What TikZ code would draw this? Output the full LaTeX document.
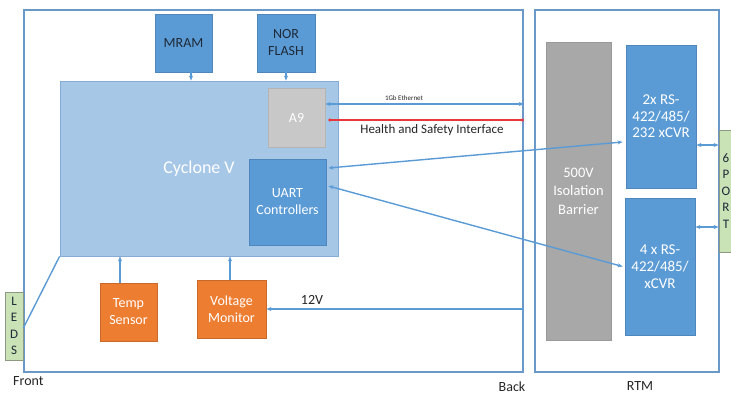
\documentclass[tikz,border=0pt]{standalone}
\usepackage{fontspec}
\setmainfont{Carlito}
\usetikzlibrary{arrows.meta}
\definecolor{frameb}{HTML}{6A98C8}
\definecolor{bluefill}{HTML}{5B9BD5}
\definecolor{blueline}{HTML}{4F86BE}
\definecolor{cycfill}{HTML}{A7C7E7}
\definecolor{cycline}{HTML}{86ACD6}
\definecolor{grayfill}{HTML}{C8C8C8}
\definecolor{grayline}{HTML}{B4B4B4}
\definecolor{isofill}{HTML}{A8A8A8}
\definecolor{isoline}{HTML}{999999}
\definecolor{orangefill}{HTML}{ED7D31}
\definecolor{orangeline}{HTML}{C9692A}
\definecolor{greenfill}{HTML}{C9E2B6}
\definecolor{greenline}{HTML}{8C9A84}
\definecolor{arrowc}{HTML}{5B9BD5}
\definecolor{redc}{HTML}{E8383B}
\definecolor{darktext}{HTML}{1E2A38}
\definecolor{labeltext}{HTML}{262626}
\begin{document}
\begin{tikzpicture}[x=1pt,y=-1pt,
  blk/.style={draw, line width=0.8pt, inner sep=0pt, align=center, font=\fontsize{14}{17}\selectfont},
  framebox/.style={draw=frameb, line width=1.7pt, inner sep=0pt, fill=white},
  bluebox/.style={blk, fill=bluefill, draw=blueline, text=white},
  orangebox/.style={blk, fill=orangefill, draw=orangeline, text=white},
  arr/.style={draw=arrowc, line width=1.4pt, -{Stealth[length=5pt,width=4pt]}},
  darr/.style={draw=arrowc, line width=1.4pt, {Stealth[length=5pt,width=4pt]}-{Stealth[length=5pt,width=4pt]}},
  lbl/.style={font=\fontsize{14}{17}\selectfont, text=labeltext, inner sep=0pt}]
\useasboundingbox (0,0) rectangle (731,394);
\clip (0,0) rectangle (731,394);
\fill[white] (0,0) rectangle (731,394);

% frames
\node[framebox, minimum width=499pt, minimum height=362pt] (board) at (273.5,191) {};
\node[framebox, minimum width=184pt, minimum height=362pt] (rtm) at (627,191) {};

% top memories
\node[bluebox, text=darktext, minimum width=57pt, minimum height=58pt] (mram) at (183.5,43) {MRAM};
\node[bluebox, text=darktext, minimum width=58pt, minimum height=58pt] (nor) at (286,43) {NOR\\FLASH};

% FPGA
\node[blk, fill=cycfill, draw=cycline, text=white, minimum width=278pt, minimum height=175pt,
      font=\fontsize{18}{20}\selectfont] (cyc) at (199,168.5) {Cyclone V};
\node[blk, fill=grayfill, draw=grayline, text=white, minimum width=57pt, minimum height=59pt] (a9) at (296.5,117.5) {A9};
\node[bluebox, minimum width=77pt, minimum height=86pt] (uart) at (287.5,202) {UART\\Controllers};

% sensors
\node[orangebox, minimum width=57pt, minimum height=58pt] (temp) at (128.5,312) {Temp\\Sensor};
\node[orangebox, minimum width=69pt, minimum height=58pt] (volt) at (231.5,309) {Voltage\\Monitor};

% LEDS
\node[blk, fill=greenfill, draw=greenline, text=darktext, minimum width=18pt, minimum height=68pt,
      font=\fontsize{13}{16.5}\selectfont] (leds) at (14,326) {L\\E\\D\\S};

% RTM content
\node[blk, fill=isofill, draw=isoline, text=white, minimum width=65pt, minimum height=298pt,
      font=\fontsize{14.5}{18.5}\selectfont] (iso) at (578.5,191) {500V\\Isolation\\Barrier};
\node[bluebox, minimum width=70pt, minimum height=143pt, font=\fontsize{15}{16.5}\selectfont] (rs2) at (661,116.5) {2x RS-\\422/485/\\232 xCVR};
\node[bluebox, minimum width=70pt, minimum height=137pt, font=\fontsize{15}{17}\selectfont] (rs4) at (660,266.5) {4 x RS-\\422/485/\\xCVR};
\node[blk, fill=greenfill, draw=greenline, text=darktext, minimum width=14pt, minimum height=122pt,
      font=\fontsize{13}{16.5}\selectfont] (port) at (726,191) {6\\P\\O\\R\\T};

% memory links
\draw[arr] ([xshift=7.5pt]mram.south) -- ([xshift=7.5pt]mram.south |- cyc.north);
\draw[arr] (nor.south) -- (nor.south |- cyc.north);

% Ethernet and health interface
\draw[darr] ([yshift=13.5pt]a9.east) coordinate (eth) -- (eth -| board.east);
\node[font=\fontsize{7}{8}\selectfont, text=labeltext, inner sep=0pt] (ethlbl) at (404,98) {1Gb Ethernet};
\draw[draw=redc, line width=1.3pt, {Circle[length=3pt]}-{Circle[length=3pt]}]
  ([yshift=-2.5pt,xshift=3pt]a9.east) coordinate (hs) -- (hs -| board.east);
\node[font=\fontsize{13}{15}\selectfont, text=labeltext, inner sep=0pt] (hslbl) at (432,130) {Health and Safety Interface};

% UART links
\draw[darr] ([yshift=34pt,xshift=2pt]uart.east) -- ([yshift=-25.5pt,xshift=-3pt]rs2.west);
\draw[darr] ([yshift=16pt,xshift=2pt]uart.east) -- ([xshift=-2pt]rs4.west);

% port links
\draw[darr] ([yshift=-28.5pt]rs2.east) coordinate (p1) -- (p1 -| port.west);
\draw[darr] ([yshift=39.5pt]rs4.east) coordinate (p2) -- (p2 -| port.west);

% power and sensors
\draw[arr] (board.east |- volt.east) -- (volt.east);
\node[lbl] (v12) at (312,300) {12V};
\draw[arr] ([xshift=-8.5pt]temp.north) -- ([xshift=-8.5pt]temp.north |- cyc.south);
\draw[arr] ([xshift=-1.5pt]volt.north) -- ([xshift=-1.5pt]volt.north |- cyc.south);

% LEDS link
\draw[draw=arrowc, line width=1.4pt] ([yshift=-2pt]leds.east) -- (cyc.south west);

% bottom labels
\node[lbl, anchor=west] (front) at (13,381) {Front};
\node[lbl] (back) at (512,387) {Back};
\node[lbl] (rtmlbl) at (640,386) {RTM};
\end{tikzpicture}
\end{document}
